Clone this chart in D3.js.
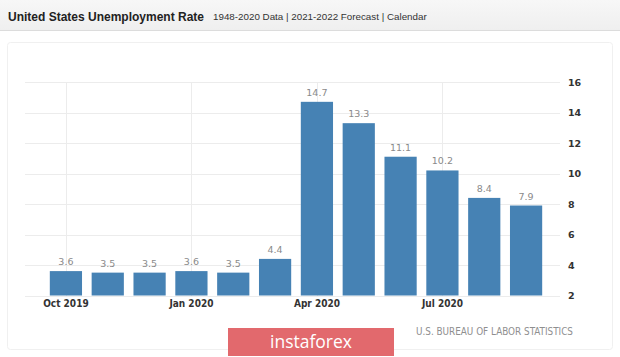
<!DOCTYPE html>
<html><head><meta charset="utf-8">
<script src="https://cdn.jsdelivr.net/npm/d3@7"></script>
<style>
html,body{margin:0;padding:0;background:#fff;}
svg{display:block;}
</style></head>
<body>
<svg id="c" width="620" height="357"></svg>
<script>
const months = ["Oct 2019","Nov 2019","Dec 2019","Jan 2020","Feb 2020","Mar 2020","Apr 2020","May 2020","Jun 2020","Jul 2020","Aug 2020","Sep 2020"];
const rates = [3.6,3.5,3.5,3.6,3.5,4.4,14.7,13.3,11.1,10.2,8.4,7.9];
const xTickLabels = ["Oct 2019","Jan 2020","Apr 2020","Jul 2020"];
const yTicks = [2,4,6,8,10,12,14,16];
const title = "United States Unemployment Rate";
const subtitle = "1948-2020 Data | 2021-2022 Forecast | Calendar";
const source = "U.S. BUREAU OF LABOR STATISTICS";

const svg = d3.select("#c");

// header
const hg = svg.append("defs").append("linearGradient").attr("id","hg").attr("x1",0).attr("x2",0).attr("y1",0).attr("y2",1);
hg.append("stop").attr("offset","0%").attr("stop-color","#f7f7f7");
hg.append("stop").attr("offset","100%").attr("stop-color","#efefef");
svg.append("rect").attr("x",0).attr("y",0).attr("width",620).attr("height",30).attr("fill","url(#hg)");
svg.append("line").attr("x1",0).attr("x2",620).attr("y1",30.5).attr("y2",30.5).attr("stroke","#dcdcdc");
svg.append("text").attr("x",8).attr("y",20.5).attr("font-family","'Liberation Sans', Arial, sans-serif")
  .attr("font-weight","bold").attr("font-size",12).attr("fill","#222").text(title);
svg.append("text").attr("x",213).attr("y",20).attr("font-family","'Liberation Sans', Arial, sans-serif")
  .attr("font-size",9.8).attr("fill","#333").text(subtitle);

// card
svg.append("rect").attr("x",7.5).attr("y",42.5).attr("width",605).attr("height",307).attr("fill","none")
  .attr("stroke","#f0f0f0").attr("rx",3);

const x = d3.scaleBand().domain(months).range([45,547]).paddingInner(0.23).paddingOuter(0.115);
const y = d3.scaleLinear().domain([2,16]).range([295.5,82]);

// horizontal gridlines
svg.append("g").selectAll("line").data(yTicks).join("line")
  .attr("x1",25).attr("x2",560)
  .attr("y1",d=>Math.round(y(d))+0.5).attr("y2",d=>Math.round(y(d))+0.5)
  .attr("stroke","#ececec");
// vertical gridlines
svg.append("g").selectAll("line").data(xTickLabels).join("line")
  .attr("x1",d=>Math.round(x(d)+x.bandwidth()/2)+0.5).attr("x2",d=>Math.round(x(d)+x.bandwidth()/2)+0.5)
  .attr("y1",82).attr("y2",296).attr("stroke","#ececec");

// right axis
const yAxis = d3.axisRight(y).tickValues(yTicks).tickSize(0).tickPadding(0);
const ya = svg.append("g").attr("transform","translate(568,0)").call(yAxis);
ya.select(".domain").remove();
ya.selectAll("text").attr("font-family","'DejaVu Sans', sans-serif").attr("font-weight","bold")
  .attr("font-size",9.5).attr("fill","#333").attr("text-anchor","start");

// bars
svg.append("g").selectAll("rect").data(rates).join("rect")
  .attr("x",(d,i)=>x(months[i])).attr("width",x.bandwidth())
  .attr("y",d=>y(d)).attr("height",d=>y(2)-y(d)).attr("fill","#4682b4");

// value labels
svg.append("g").selectAll("text").data(rates).join("text")
  .attr("x",(d,i)=>x(months[i])+x.bandwidth()/2).attr("y",d=>y(d)-6)
  .attr("text-anchor","middle").attr("font-family","'DejaVu Sans', sans-serif")
  .attr("font-size",9.5).attr("fill","#8a8a8a").text(d=>d3.format(".1f")(d));

// bottom axis
const xAxis = d3.axisBottom(x).tickValues(xTickLabels).tickSize(0).tickPadding(0);
const xa = svg.append("g").attr("transform","translate(0,300)").call(xAxis);
xa.select(".domain").remove();
xa.selectAll("text").attr("font-family","'DejaVu Sans Condensed', 'DejaVu Sans', sans-serif").attr("font-weight","bold")
  .attr("font-size",10).attr("fill","#333");

// source
svg.append("text").attr("x",416).attr("y",335).attr("font-family","'DejaVu Sans Condensed', 'DejaVu Sans', sans-serif")
  .attr("font-size",10).attr("fill","#8f8f8f").attr("textLength",157).attr("lengthAdjust","spacingAndGlyphs").text(source);

// instaforex badge
svg.append("rect").attr("x",228).attr("y",328).attr("width",166).attr("height",28).attr("fill","#e2696d");
svg.append("text").attr("x",311).attr("y",348).attr("text-anchor","middle")
  .attr("font-family","'Open Sans', sans-serif").attr("font-size",17.5).attr("fill","#fff").text("instaforex");
</script>
</body></html>
